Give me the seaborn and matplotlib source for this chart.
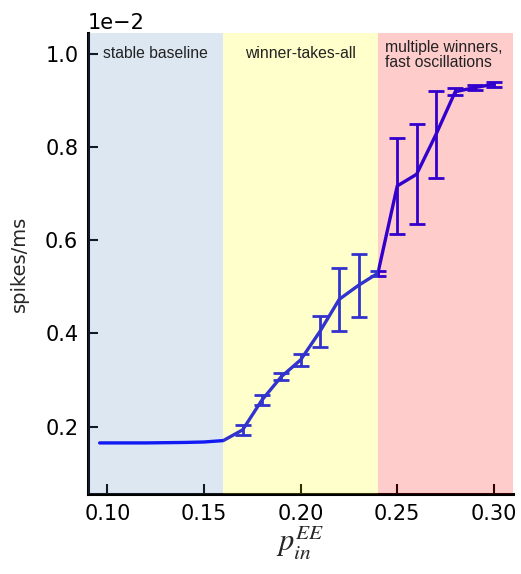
import matplotlib
matplotlib.use("Agg")
import matplotlib.pyplot as plt
import seaborn as sns
import pandas as pd

# connection probability and mean firing rate (spikes/ms) with error
p_in = [0.096, 0.12, 0.14, 0.15, 0.16, 0.17, 0.18, 0.19, 0.20, 0.21, 0.22,
        0.23, 0.24, 0.25, 0.26, 0.27, 0.28, 0.29, 0.30]
rate = [0.165e-2, 0.165e-2, 0.166e-2, 0.167e-2, 0.170e-2, 0.193e-2, 0.257e-2,
        0.307e-2, 0.343e-2, 0.404e-2, 0.473e-2, 0.503e-2, 0.529e-2, 0.716e-2,
        0.741e-2, 0.826e-2, 0.918e-2, 0.927e-2, 0.934e-2]
err = [0.0, 0.0, 0.0, 0.0, 0.0, 0.010e-2, 0.010e-2, 0.008e-2, 0.012e-2,
       0.033e-2, 0.067e-2, 0.067e-2, 0.005e-2, 0.103e-2, 0.107e-2, 0.093e-2,
       0.008e-2, 0.006e-2, 0.006e-2]

regions = [(0.09, 0.16, "stable baseline"),
           (0.16, 0.24, "winner-takes-all"),
           (0.24, 0.31, "multiple winners,\nfast oscillations")]
region_colors = [(0.35, 0.53, 0.75), (1.0, 1.0, 0.0), (1.0, 0.0, 0.0)]

sns.set_style("ticks")
plt.rcParams["font.family"] = ["DejaVu Sans"]
plt.rcParams["mathtext.fontset"] = "stix"

df = pd.DataFrame({"p": p_in, "rate": rate, "err": err})

fig = plt.figure(figsize=(5.21, 5.74), dpi=100)
ax = fig.add_axes([0.169, 0.139, 0.816, 0.8035])

sns.lineplot(data=df, x="p", y="rate", ax=ax, color="#0000ff", lw=2.4,
             zorder=2)
mask = df["err"] > 0
ax.errorbar(df["p"][mask], df["rate"][mask], yerr=df["err"][mask], fmt="none",
            ecolor="#0000ff", elinewidth=2.0, capsize=6, capthick=2.0,
            zorder=2)

# shaded regimes laid over the curve
for (x0, x1, _), c in zip(regions, region_colors):
    ax.axvspan(x0, x1, color=c, alpha=0.2, lw=0, zorder=5)

ax.set_xlim(0.09, 0.31)
ax.set_ylim(0.00055, 0.01044)
ax.set_xticks([0.10, 0.15, 0.20, 0.25, 0.30])
ax.set_yticks([0.002, 0.004, 0.006, 0.008, 0.010])
ax.ticklabel_format(axis="y", style="sci", scilimits=(0, 0))
ax.xaxis.set_major_formatter(matplotlib.ticker.FormatStrFormatter("%.2f"))
ax.tick_params(direction="in", length=7, width=1.5, labelsize=15, pad=7,
               colors="black")
ax.yaxis.get_offset_text().set_fontsize(15)

for side in ("top", "right"):
    ax.spines[side].set_visible(False)
for side in ("left", "bottom"):
    ax.spines[side].set_linewidth(2.2)
    ax.spines[side].set_color("black")

ax.set_xlabel(r"$p_{in}^{EE}$", fontsize=22, labelpad=0)
ax.set_ylabel("spikes/ms", fontsize=14)
ax.yaxis.set_label_coords(-0.14, 0.5)

txt = dict(family="Liberation Sans", fontsize=11.3, color="#222222", zorder=6)
ax.text(0.125, 0.0100, regions[0][2], ha="center", va="center", **txt)
ax.text(0.200, 0.0100, regions[1][2], ha="center", va="center", **txt)
ax.text(0.2435, 0.01030, regions[2][2], ha="left", va="top",
        linespacing=1.05, **txt)

fig.savefig("out.png", dpi=100)
